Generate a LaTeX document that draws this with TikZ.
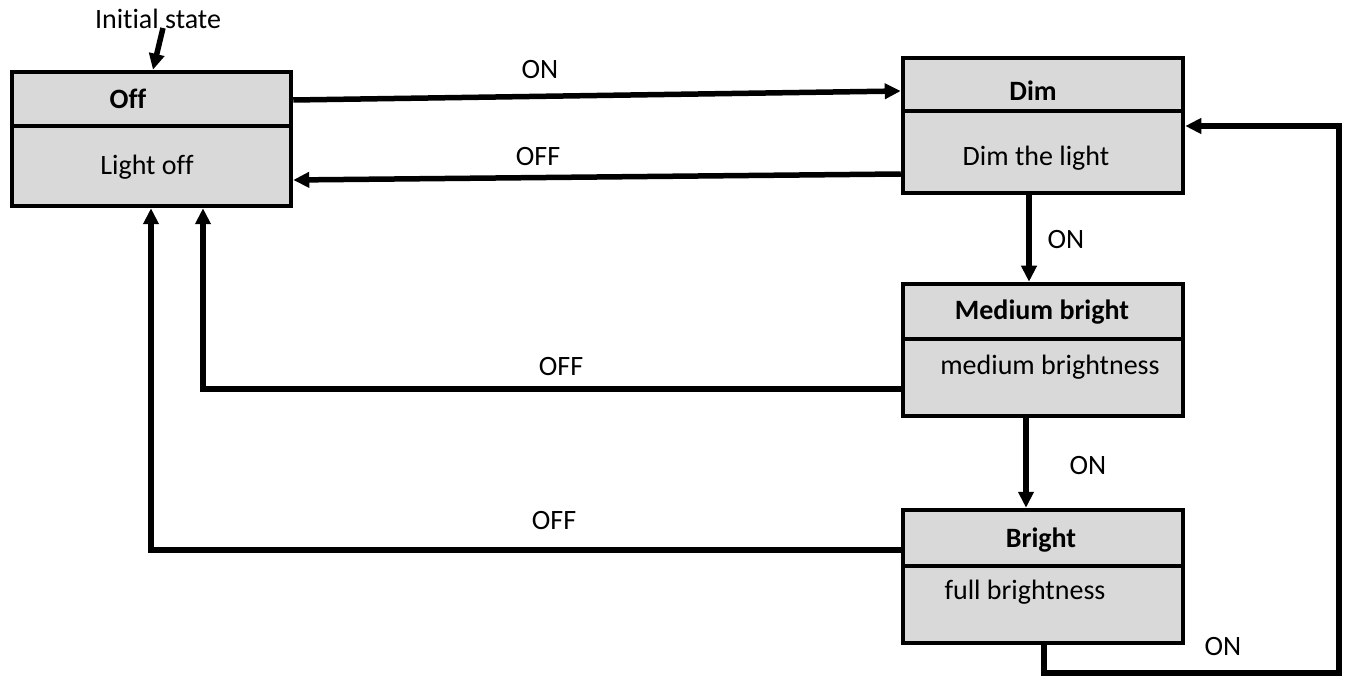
\documentclass[tikz,border=0pt]{standalone}
\usepackage{fontspec}
\setmainfont{Carlito}[Ligatures=NoCommon]
\usetikzlibrary{arrows.meta}
\definecolor{boxgray}{HTML}{D9D9D9}
\begin{document}
\begin{tikzpicture}[x=1pt,y=-1pt,
  statebox/.style={draw=black, fill=boxgray, line width=4.5pt, inner sep=0pt},
  divider/.style={line width=4pt},
  conn/.style={line width=5.5pt, -{Triangle[length=16pt,width=15pt]}},
  lbl/.style={font=\fontsize{28}{33}\selectfont, inner sep=0pt},
  ttl/.style={font=\fontsize{28}{33}\selectfont\bfseries, inner sep=0pt}]
\useasboundingbox (0,0) rectangle (1348,684);

% state boxes
\node[statebox, minimum width=279pt, minimum height=134pt] (off) at (151.5,139) {};
\node[statebox, minimum width=280pt, minimum height=135pt] (dim) at (1043,125.5) {};
\node[statebox, minimum width=280pt, minimum height=132pt] (med) at (1043,350) {};
\node[statebox, minimum width=280pt, minimum height=133pt] (bri) at (1043,576.5) {};

% dividers
\draw[divider] (off.west |- 0,126) -- (off.east |- 0,126);
\draw[divider] (dim.west |- 0,111) -- (dim.east |- 0,111);
\draw[divider] (med.west |- 0,339) -- (med.east |- 0,339);
\draw[divider] (bri.west |- 0,566) -- (bri.east |- 0,566);

% texts
\node[ttl] (offT) at (128,99) {Off};
\node[lbl] (offB) at (147,167) {Light off};
\node[ttl] (dimT) at (1033,91) {Dim};
\node[lbl] (dimB) at (1036,158) {Dim the light};
\node[ttl] (medT) at (1042,312) {Medium bright};
\node[lbl] (medB) at (1050,367) {medium brightness};
\node[ttl] (briT) at (1041,540) {Bright};
\node[lbl] (briB) at (1025,592) {full brightness};

% initial state
\node[lbl] (init) at (158,19) {Initial state};
\coordinate (initS) at (163,28);
\draw[conn] (initS) -- (off.north -| 153,0);

% transitions
\draw[conn] (off.east |- 0,100) -- (dim.west |- 0,91);
\node[lbl] (l1) at (540,70) {ON};
\draw[conn] (dim.west |- 0,174) -- (off.east |- 0,180);
\node[lbl] (l2) at (538,157) {OFF};
\draw[conn] (dim.south -| 1029,0) -- (med.north -| 1029,0);
\node[lbl] (l3) at (1066,240) {ON};
\draw[conn] (med.south -| 1026,0) -- (bri.north -| 1026,0);
\node[lbl] (l4) at (1088,466) {ON};
\draw[conn] (med.west |- 0,389) -- (203,389) -- (off.south -| 203,0);
\node[lbl] (l5) at (561,367) {OFF};
\draw[conn] (bri.west |- 0,550) -- (151,550) -- (off.south -| 151,0);
\node[lbl] (l6) at (554,521) {OFF};
\draw[conn] (bri.south -| 1044,0) -- (1044,673) -- (1339,673) -- (1339,126) -- (dim.east |- 0,126);
\node[lbl] (l7) at (1223,647) {ON};
\end{tikzpicture}
\end{document}
